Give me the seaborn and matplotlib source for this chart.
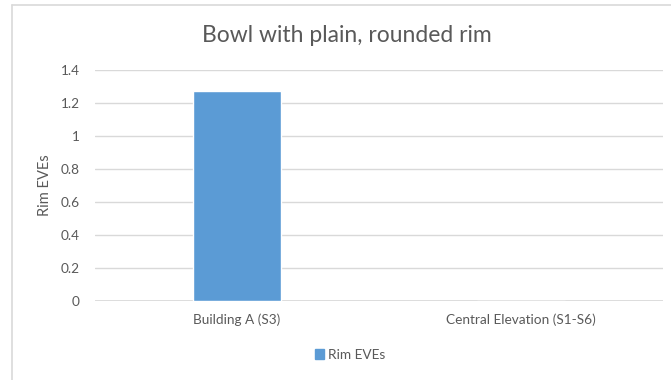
import matplotlib
matplotlib.use("Agg")
import matplotlib.pyplot as plt
import seaborn as sns
import pandas as pd
from matplotlib.patches import Rectangle
from matplotlib.lines import Line2D

categories = ["Building A (S3)", "Central Elevation (S1-S6)"]
rim_eves = [1.27, 0.0]
y_ticks = [0, 0.2, 0.4, 0.6, 0.8, 1, 1.2, 1.4]
y_tick_labels = ["0", "0.2", "0.4", "0.6", "0.8", "1", "1.2", "1.4"]
series_name = "Rim EVEs"
title = "Bowl with plain, rounded rim"

df = pd.DataFrame({"Site": categories, series_name: rim_eves})

sns.set_theme(style="white")
plt.rcParams["font.family"] = ["Lato", "DejaVu Sans"]

text_color = "#595959"
grid_color = "#d9d9d9"
bar_color = "#5B9BD5"

fig = plt.figure(figsize=(6.71, 3.80), dpi=100)
ax = fig.add_axes([95 / 671, 1 - 301 / 380, (663 - 95) / 671, (301 - 70) / 380])

sns.barplot(data=df, x="Site", y=series_name, color=bar_color, width=0.31,
            ax=ax, label=series_name, saturation=1)

ax.set_ylim(0, 1.4)
ax.set_xlim(-0.5, 1.5)
ax.set_yticks(y_ticks)
ax.set_yticklabels(y_tick_labels)
ax.yaxis.grid(True, color=grid_color, linewidth=1)
ax.set_axisbelow(True)
for s in ax.spines.values():
    s.set_visible(False)
ax.axhline(0, color=grid_color, linewidth=1.2, zorder=0.5)
ax.tick_params(axis="both", length=0, colors=text_color, labelsize=9.8)
ax.tick_params(axis="y", pad=11)
ax.tick_params(axis="x", pad=9)
ax.set_xlabel("")
ax.set_ylabel(series_name, color=text_color, fontsize=10.5, labelpad=6)
if ax.legend_:
    ax.legend_.remove()

fig.text(347 / 671, 1 - 35 / 380, title, ha="center", va="center",
         fontsize=16.5, color=text_color)

handle = Rectangle((0, 0), 1, 1, color=bar_color)
fig.legend([handle], [series_name], loc="center", bbox_to_anchor=(350 / 671, 1 - 355 / 380),
           frameon=False, fontsize=9.8, labelcolor=text_color, handlelength=0.7,
           handleheight=0.7, handletextpad=0.3)

# outer chart frame (top and left edges visible)
fig.add_artist(Line2D([12 / 671, 1], [1 - 5 / 380, 1 - 5 / 380], transform=fig.transFigure,
                      color=grid_color, linewidth=1.2))
fig.add_artist(Line2D([12 / 671, 12 / 671], [0, 1 - 5 / 380], transform=fig.transFigure,
                      color=grid_color, linewidth=1.2))

fig.savefig("out.png", dpi=100, facecolor="white")
